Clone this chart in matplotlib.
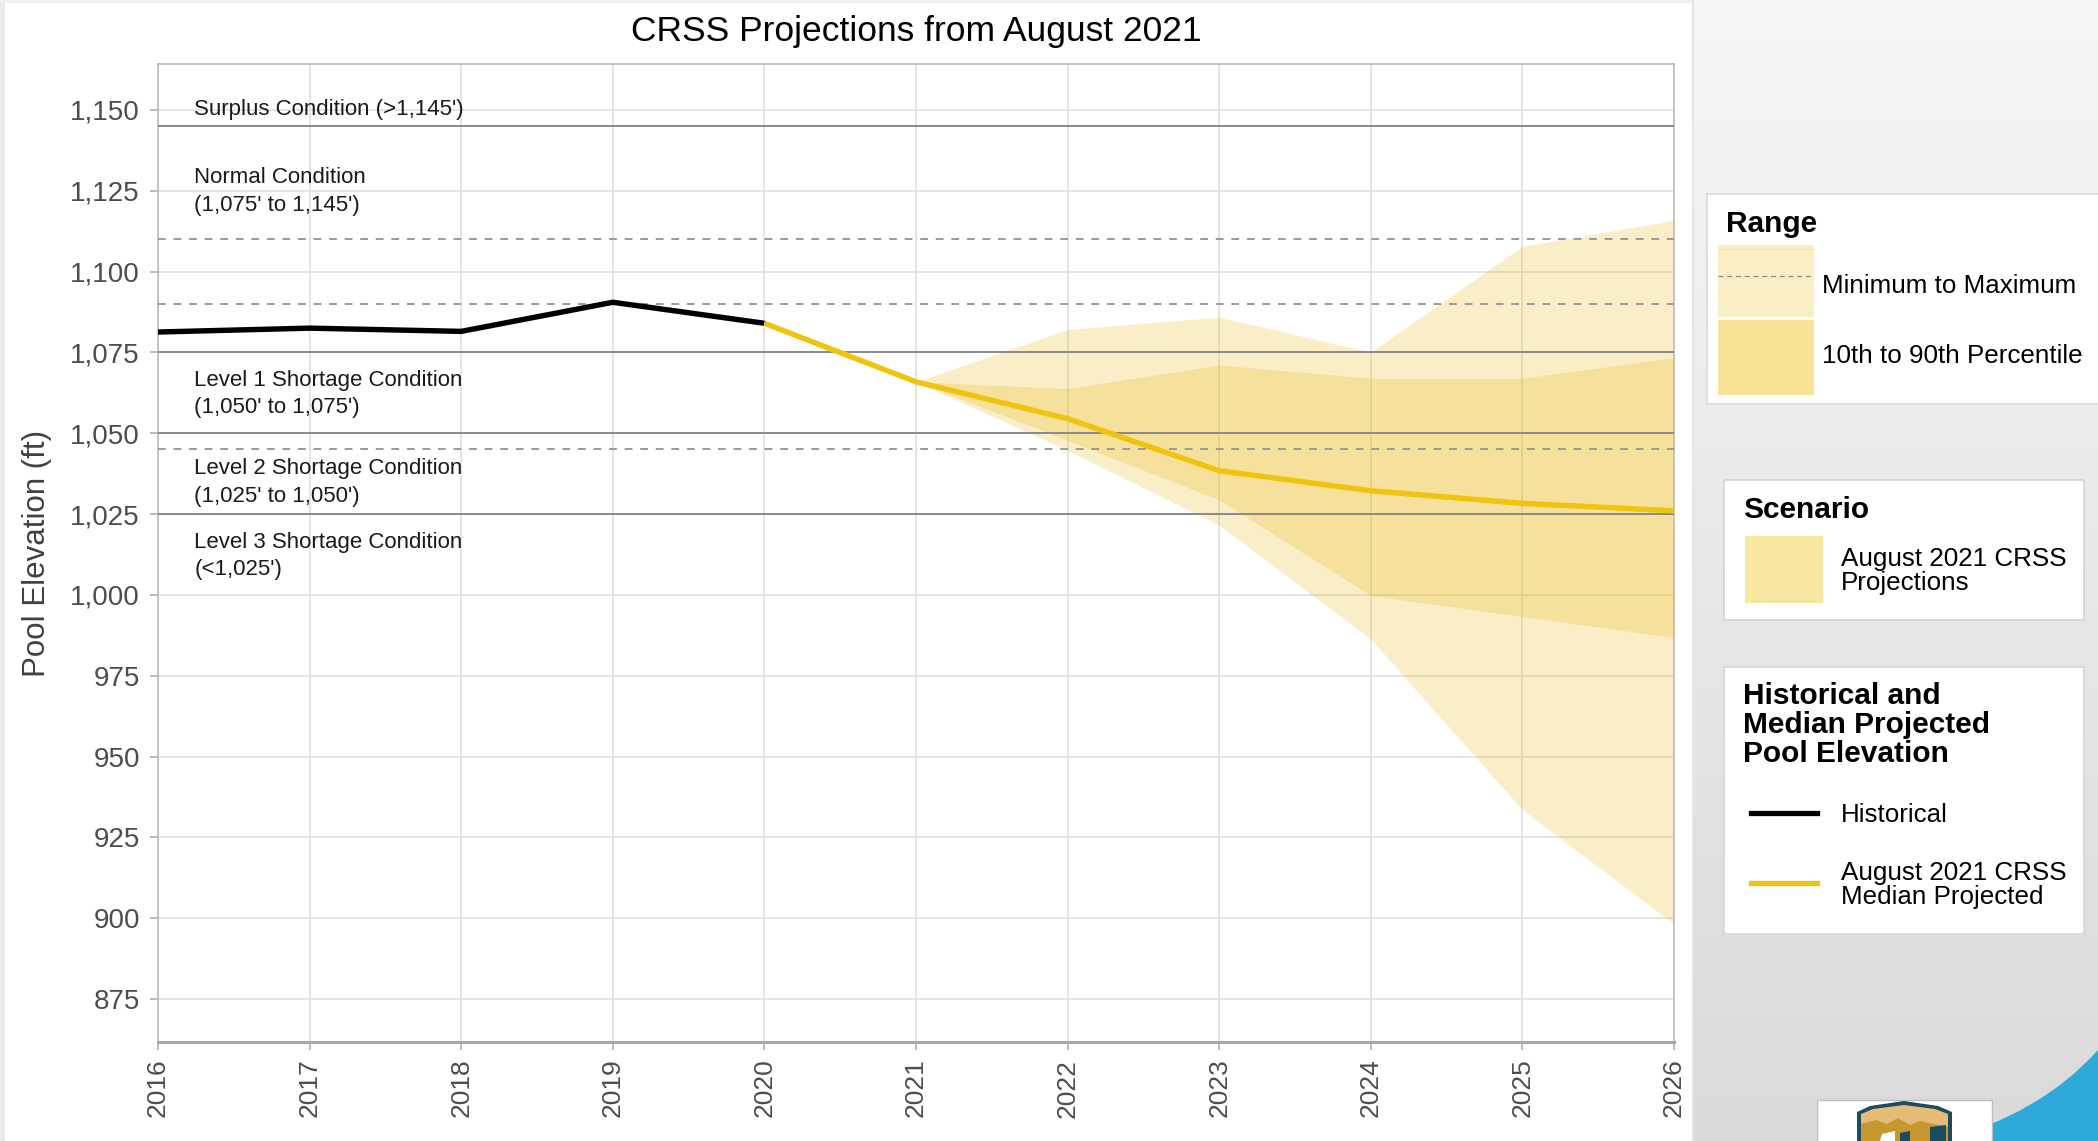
import numpy as np
import matplotlib.pyplot as plt
from matplotlib.patches import Rectangle, Polygon, PathPatch
from matplotlib.path import Path

plt.rcParams['font.family'] = ['Liberation Sans', 'DejaVu Sans']

# historical end-of-year elevations
years_hist = [2016, 2017, 2018, 2019, 2020]
elev_hist = [1081.3, 1082.5, 1081.5, 1090.5, 1084.0]

# August 2021 CRSS median projection
years_proj = [2020, 2021, 2022, 2023, 2024, 2025, 2026]
elev_median = [1084.0, 1065.9, 1054.5, 1038.4, 1032.2, 1028.3, 1026.0]

# projection ranges
years_band = [2021, 2022, 2023, 2024, 2025, 2026]
elev_min = [1065.9, 1044.7, 1021.6, 986.3, 933.5, 898.2]
elev_p10 = [1065.9, 1047.8, 1029.4, 999.8, 993.3, 986.8]
elev_p90 = [1065.9, 1063.8, 1071.1, 1067.0, 1067.0, 1073.4]
elev_max = [1065.9, 1082.1, 1085.9, 1075.1, 1107.8, 1115.8]

solid_levels = [1145, 1075, 1050, 1025]
dashed_levels = [1110, 1090, 1045]

zone_text = ["Surplus Condition (>1,145')",
             "Normal Condition", "(1,075' to 1,145')",
             "Level 1 Shortage Condition", "(1,050' to 1,075')",
             "Level 2 Shortage Condition", "(1,025' to 1,050')",
             "Level 3 Shortage Condition", "(<1,025')"]
zone_y = [1150, 1129, 1120.5, 1066.2, 1057.8, 1039.1, 1030.5, 1016.3, 1007.8]

yticks = list(range(875, 1151, 25))
xticks = list(range(2016, 2027))

W, H = 2098, 1141
fig = plt.figure(figsize=(W / 100, H / 100), dpi=100, facecolor='white')

# background / side panel drawn in pixel coords
bg = fig.add_axes([0, 0, 1, 1], zorder=0)
bg.set_xlim(0, W)
bg.set_ylim(H, 0)
bg.axis('off')

grad = np.linspace(0.965, 0.855, 256)[:, None] * np.ones((256, 2))
bg.imshow(np.dstack([grad, grad, grad]), extent=(1693, W, H, 0), aspect='auto', zorder=0)
bg.add_patch(Rectangle((0, 0), 5, H, fc='#ebebeb', lw=0, zorder=1))
bg.add_patch(Rectangle((0, 0), 1693, 3, fc='#f0f0f0', lw=0, zorder=1))
bg.plot([1693, 1693], [0, H], color='#e2e2e2', lw=1.2, zorder=1)

# blue swoosh + logo
swoosh = Path([(1940, H), (2040, 1115), (W, 1050), (W, H), (1940, H)],
              [Path.MOVETO, Path.CURVE3, Path.CURVE3, Path.LINETO, Path.CLOSEPOLY])
bg.add_patch(PathPatch(swoosh, fc='#2ea9da', lw=0, zorder=2))
bg.add_patch(Rectangle((1817, 1100), 175, 45, fc='white', ec='#bdbdbd', lw=1, zorder=3))
bg.add_patch(Polygon([(1857, H), (1857, 1112), (1870, 1106), (1904, 1101), (1938, 1106),
                      (1952, 1112), (1952, H)], fc='#1d4b5f', lw=0, zorder=4))
bg.add_patch(Polygon([(1861, H), (1861, 1114), (1873, 1109), (1904, 1105), (1935, 1109),
                      (1948, 1114), (1948, H)], fc='#e4bc78', lw=0, zorder=5))
bg.add_patch(Polygon([(1861, H), (1861, 1124), (1876, 1120), (1887, 1124), (1898, 1118),
                      (1910, 1125), (1920, 1121), (1948, 1127), (1948, H)], fc='#c9972f', lw=0, zorder=6))
bg.add_patch(Polygon([(1880, H), (1882, 1134), (1895, 1131), (1895, H)], fc='white', lw=0, zorder=7))
bg.add_patch(Polygon([(1900, H), (1900, 1133), (1910, 1131), (1910, H)], fc='#1d4b5f', lw=0, zorder=7))
bg.add_patch(Polygon([(1930, H), (1930, 1127), (1946, 1125), (1946, H)], fc='#1d4b5f', lw=0, zorder=7))

# legends
light_c, dark_c = '#faefc4', '#f6e396'
leg_fs, head_fs = 18.7, 21.5

bg.add_patch(Rectangle((1707, 194), 420, 210, fc='white', ec='#dadada', lw=1.2, zorder=2))
bg.text(1726, 224, 'Range', fontsize=head_fs, fontweight='bold', va='center', zorder=3)
bg.add_patch(Rectangle((1718, 245), 96, 72, fc=light_c, lw=0, zorder=3))
bg.plot([1718, 1814], [249, 249], color='#efe3b3', lw=0.8, zorder=4)
bg.plot([1718, 1814], [275.5, 275.5], color='#8a8a8a', lw=0.9, ls=(0, (4, 3)), zorder=4)
bg.add_patch(Rectangle((1718, 320), 96, 75, fc=dark_c, lw=0, zorder=3))
bg.text(1822, 286, 'Minimum to Maximum', fontsize=leg_fs, va='center', zorder=3)
bg.text(1822, 356, '10th to 90th Percentile', fontsize=leg_fs, va='center', zorder=3)

bg.add_patch(Rectangle((1724, 480), 360, 140, fc='white', ec='#d5d5d5', lw=1.2, zorder=2))
bg.text(1743, 510, 'Scenario', fontsize=head_fs, fontweight='bold', va='center', zorder=3)
bg.add_patch(Rectangle((1745, 536), 78, 67, fc='#f8e7a0', lw=0, zorder=3))
bg.text(1841, 559, 'August 2021 CRSS', fontsize=leg_fs, va='center', zorder=3)
bg.text(1841, 583, 'Projections', fontsize=leg_fs, va='center', zorder=3)

bg.add_patch(Rectangle((1724, 667), 360, 267, fc='white', ec='#d5d5d5', lw=1.2, zorder=2))
for i, s in enumerate(['Historical and', 'Median Projected', 'Pool Elevation']):
    bg.text(1743, 696 + 29 * i, s, fontsize=head_fs, fontweight='bold', va='center', zorder=3)
bg.plot([1751, 1817], [813, 813], color='black', lw=3.8, zorder=3)
bg.plot([1751, 1817], [883, 883], color='#f0c30f', lw=3.8, zorder=3)
bg.text(1841, 815, 'Historical', fontsize=leg_fs, va='center', zorder=3)
bg.text(1841, 873, 'August 2021 CRSS', fontsize=leg_fs, va='center', zorder=3)
bg.text(1841, 897, 'Median Projected', fontsize=leg_fs, va='center', zorder=3)

# main chart
ax = fig.add_axes([158 / W, 1 - 1042 / H, (1674 - 158) / W, (1042 - 64) / H], zorder=2)
ax.set_facecolor('white')

ax.fill_between(years_band, elev_min, elev_max, color='#e8b600', alpha=0.22, lw=0, zorder=2)
ax.fill_between(years_band, elev_p10, elev_p90, color='#e8b600', alpha=0.22, lw=0, zorder=2)
for lv in solid_levels:
    ax.axhline(lv, color='#8a8a8a', lw=1.4, zorder=3)
for lv in dashed_levels:
    ax.axhline(lv, color='#9a9a9a', lw=1.4, ls=(0, (4, 4)), zorder=3)
ax.plot(years_hist, elev_hist, color='black', lw=3.9, zorder=4, solid_capstyle='butt')
ax.plot(years_proj, elev_median, color='#f0c30f', lw=3.9, zorder=4, solid_capstyle='butt')

for s, y in zip(zone_text, zone_y):
    ax.text(2016.24, y, s, fontsize=16, color='#1a1a1a', va='center', zorder=5)

ax.set_xlim(2016, 2026)
ax.set_ylim(861.7, 1164.2)
ax.set_xticks(xticks)
ax.set_xticklabels([str(x) for x in xticks], rotation=90)
ax.set_yticks(yticks)
ax.set_yticklabels([f"{v:,}" for v in yticks])
ax.tick_params(axis='both', colors='#b0b0b0', labelcolor='#4d4d4d', length=6, width=1.2)
ax.tick_params(axis='y', labelsize=20, pad=7)
ax.tick_params(axis='x', labelsize=19, pad=6)
ax.grid(True, color='#e2e2e2', lw=1.3)
ax.set_axisbelow(True)
for side in ['left', 'top', 'right']:
    ax.spines[side].set_color('#b8b8b8')
    ax.spines[side].set_linewidth(1.1)
ax.spines['bottom'].set_color('#a8a8a8')
ax.spines['bottom'].set_linewidth(2.2)

fig.text(916 / W, 1 - 32 / H, 'CRSS Projections from August 2021', fontsize=25.5,
         ha='center', va='center', color='black')
fig.text(37 / W, 1 - 553 / H, 'Pool Elevation (ft)', fontsize=22.5, rotation=90,
         ha='center', va='center', color='#404040')

fig.savefig('out.png', dpi=100, facecolor='white')
